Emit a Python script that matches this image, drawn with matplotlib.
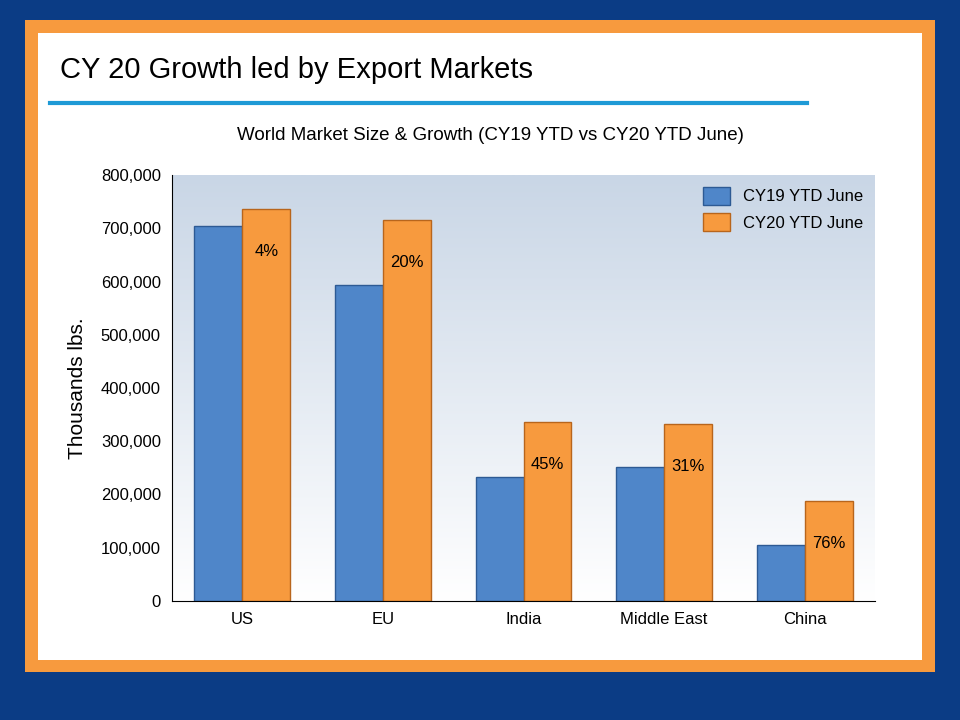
import numpy as np
import matplotlib.pyplot as plt
from matplotlib.patches import Rectangle
from matplotlib.lines import Line2D

regions = ['US', 'EU', 'India', 'Middle East', 'China']
cy19 = [705000, 593000, 232000, 252000, 105000]
cy20 = [737000, 716000, 337000, 333000, 188000]
growth = ['4%', '20%', '45%', '31%', '76%']

fig = plt.figure(figsize=(9.6, 7.2), dpi=100)
fig.patch.set_facecolor('#0b3c85')

# frame
fig.patches.append(Rectangle((25/960, 1-672/720), 910/960, 652/720, transform=fig.transFigure,
                             facecolor='#f79a3e', edgecolor='none', zorder=-2))
fig.patches.append(Rectangle((38/960, 1-660/720), 884/960, 627/720, transform=fig.transFigure,
                             facecolor='white', edgecolor='none', zorder=-1))
fig.lines.append(Line2D([50/960, 807/960], [1-103/720, 1-103/720], transform=fig.transFigure,
                        color='#1e9ad6', lw=3))
fig.text(60/960, 1-70/720, 'CY 20 Growth led by Export Markets', fontsize=21, va='center',
         family='Liberation Sans')
fig.text(490/960, 1-136/720, 'World Market Size & Growth (CY19 YTD vs CY20 YTD June)',
         fontsize=13.5, ha='center', va='center', family='Liberation Sans')

ax = fig.add_axes([172/960, 1-601/720, 703/960, 426/720])
ax.set_zorder(2)
x = np.arange(len(regions))
w = 0.34
grad = np.linspace(0, 1, 256).reshape(-1, 1)
ax.imshow(grad, extent=(-0.5, 4.5, 0, 800000), aspect='auto', origin='lower',
          cmap=plt.matplotlib.colors.LinearSegmentedColormap.from_list('g', ['#ffffff', '#c9d6e6']),
          zorder=0)

ax.bar(x - w/2, cy19, w, color='#4f86c9', edgecolor='#2d5a94', lw=1, zorder=2, label='CY19 YTD June')
b2 = ax.bar(x + w/2, cy20, w, color='#f79a3e', edgecolor='#b8651c', lw=1, zorder=2, label='CY20 YTD June')
for rect, g in zip(b2, growth):
    ax.annotate(g, (rect.get_x() + rect.get_width()/2, rect.get_height()), xytext=(0, -31),
                textcoords='offset points', ha='center', va='center', fontsize=12,
                family='Liberation Sans')
ax.set_xlim(-0.5, 4.5)
ax.set_ylim(0, 800000)

ax.set_xticks(x)
ax.set_xticklabels(regions, family='Liberation Sans', fontsize=12)
ax.set_yticks(np.arange(0, 800001, 100000))
ax.set_yticklabels(['{:,}'.format(v) for v in range(0, 800001, 100000)],
                   family='Liberation Sans', fontsize=12)
ax.tick_params(length=0, pad=8)
ax.set_ylabel('Thousands lbs.', fontsize=15, family='Liberation Sans', labelpad=10)
for s in ['top', 'right']:
    ax.spines[s].set_visible(False)
ax.spines['left'].set_color('black')
ax.spines['bottom'].set_color('black')
leg = ax.legend(loc='upper right', frameon=False, prop={'family': 'Liberation Sans', 'size': 12},
                handlelength=1.6, handleheight=1.3, borderaxespad=0.3)

fig.savefig('out.png', dpi=100, facecolor=fig.get_facecolor())
